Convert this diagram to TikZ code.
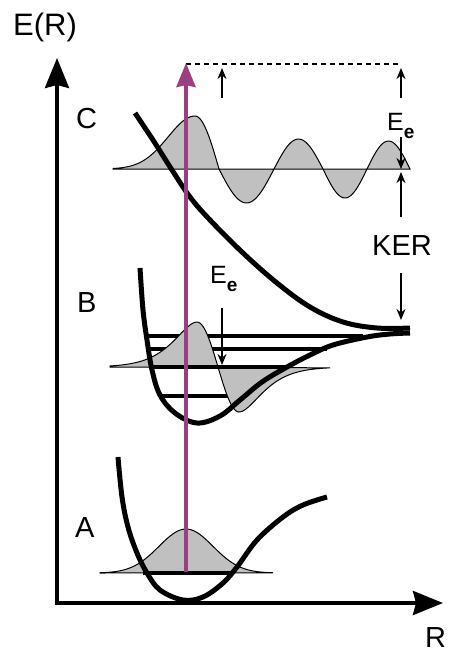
\documentclass[tikz,border=0pt]{standalone}
\usepackage{fontspec}
\setmainfont{Liberation Sans}
\usetikzlibrary{arrows.meta}
\definecolor{pulse}{RGB}{156,62,128}
\definecolor{wavegray}{RGB}{192,192,192}
\newcommand{\subefont}{\fontsize{19}{19}\selectfont\bfseries}

\begin{document}
\begin{tikzpicture}[
  x=1pt,
  y=-1pt,
  >=Stealth,
  lbl/.style={font=\fontsize{29}{30}\selectfont, inner sep=0pt, anchor=base west},
  elbl/.style={font=\fontsize{25}{26}\selectfont, inner sep=0pt, anchor=base west},
  axis/.style={line width=3.5pt, line join=miter, {Stealth[length=30pt,width=24pt,inset=3pt]}-{Stealth[length=30pt,width=24pt,inset=3pt]}},
  well/.style={line width=5pt, line join=round},
  level/.style={line width=4pt},
  wave/.style={fill=wavegray, draw=black, line width=1pt},
  marker/.style={line width=1.8pt, -{Stealth[length=11pt,width=9pt]}},
  dotline/.style={line width=1.8pt, dash pattern=on 4.5pt off 4.5pt},
  excite/.style={draw=pulse, line width=4pt, -{Stealth[length=24pt,width=19pt,inset=2pt]}},
  declare function={tail(\d)=exp(1.5*(ln(1+\d/21)-\d/21));}
]
  \useasboundingbox (0,0) rectangle (450,653);

  \coordinate (O) at (57,603);
  \coordinate (ytip) at (57,58);
  \coordinate (xtip) at (443,603);
  \draw[axis] (ytip) -- (O) -- (xtip);

  \node[lbl, font=\fontsize{31}{32}\selectfont] (ER) at (13,35) {E(R)};
  \node[lbl] (R) at (425,647) {R};
  \node[lbl] (stC) at (76,128) {C};
  \node[lbl] (stB) at (77,312) {B};
  \node[lbl] (stA) at (75,537) {A};

  \draw[level] (146,336) -- (363,336);
  \draw[level] (148,349) -- (327,349);
  \draw[level] (160,396) -- (237,396);

  \filldraw[wave] (113,169)
    -- plot[domain=113:195, samples=40] (\x,{169-53*exp(-((\x-195)/38)^2)})
    -- plot[domain=195:219, samples=20] (\x,{169-53*cos(90*(\x-195)/24)})
    -- plot[domain=219:274, samples=30] (\x,{169+34*sin(180*(\x-219)/55)})
    -- plot[domain=274:323, samples=30] (\x,{169-30*sin(180*(\x-274)/49)})
    -- plot[domain=323:367, samples=30] (\x,{169+29*sin(180*(\x-323)/44)})
    -- plot[domain=367:410, samples=30] (\x,{169-28*sin(180*(\x-367)/43)})
    -- cycle;

  \filldraw[wave] (110,367)
    -- plot[domain=110:197, samples=40] (\x,{367-45*tail(197-\x)})
    -- plot[domain=197:239, samples=30] (\x,{367-45*cos(180*(\x-197)/42)})
    -- plot[domain=239:330, samples=40] (\x,{367+45*tail(\x-239)})
    -- cycle;
  \draw[level] (151,367) -- (287,367);

  \filldraw[wave] (100,573)
    -- plot[domain=100:273, samples=60] (\x,{573-44*exp(-((\x-186)/27)^2/2)})
    -- cycle;
  \draw[level] (143,573) -- (232,573);

  \draw[well] plot[smooth, tension=0.6] coordinates {(135,113) (153,140) (172,170) (190,197) (210,220) (243,253) (277,283) (310,307) (343,322) (377,328) (410,328)};
  \draw[well] plot[smooth, tension=0.6] coordinates {(140,268) (143,310) (147,340) (152,370) (160,395) (175,413) (197,423) (220,416) (240,400) (262,382) (287,367) (310,355) (333,345) (367,337) (390,334) (410,333)};
  \draw[well] plot[smooth, tension=0.6] coordinates {(118,457) (122,497) (128,527) (137,553) (147,573) (160,590) (183,600) (203,597) (223,583) (237,567) (257,540) (283,517) (303,505) (327,497)};

  \coordinate (pumpTop) at (186,64);
  \coordinate (eeTop) at (401,64);
  \draw[dotline] (pumpTop) -- (eeTop);
  \coordinate (a1) at (222,98);
  \coordinate (a2) at (222,68);
  \draw[marker] (a1) -- (a2);
  \coordinate (b1) at (401,98);
  \coordinate (b2) at (401,68);
  \draw[marker] (b1) -- (b2);
  \node[elbl] (EeC) at (387,130) {E\raisebox{-8pt}{\subefont e}};
  \coordinate (c1) at (401,137);
  \coordinate (c2) at (401,169);
  \draw[marker] (c1) -- (c2);
  \coordinate (d1) at (401,217);
  \coordinate (d2) at (401,172);
  \draw[marker] (d1) -- (d2);
  \node[lbl, anchor=center] (KER) at (402,246) {KER};
  \coordinate (k1) at (401,273);
  \coordinate (k2) at (401,320);
  \draw[marker] (k1) -- (k2);

  \node[elbl] (EeB) at (210,283) {E\raisebox{-8pt}{\subefont e}};
  \coordinate (e1) at (222,308);
  \coordinate (e2) at (222,365);
  \draw[marker] (e1) -- (e2);

  \coordinate (pumpBot) at (186,572);
  \coordinate (pumpTip) at (186,63);
  \draw[excite] (pumpBot) -- (pumpTip);
\end{tikzpicture}
\end{document}
